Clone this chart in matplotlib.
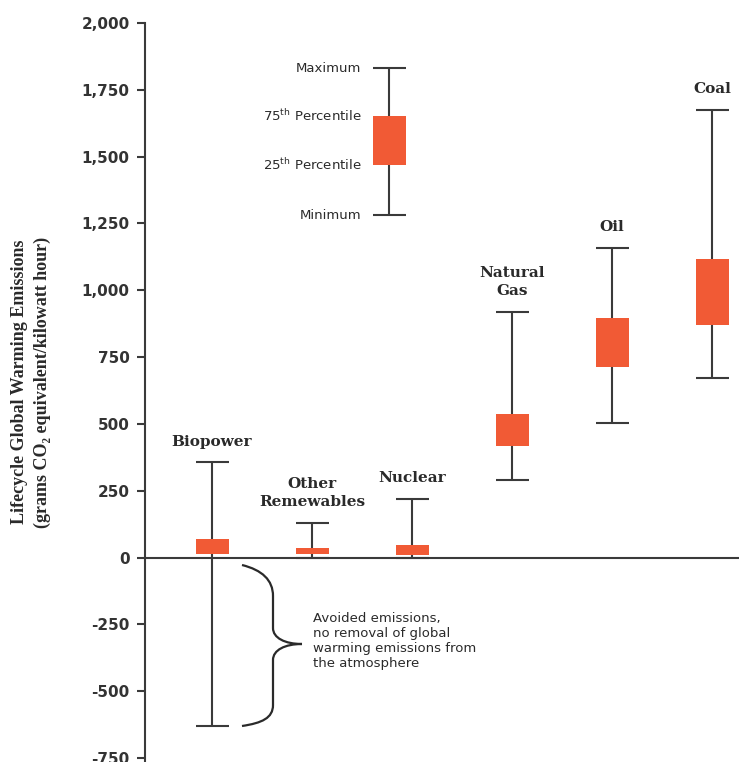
import matplotlib
matplotlib.use("Agg")
import matplotlib.pyplot as plt
from matplotlib.path import Path
from matplotlib.patches import PathPatch

# ---- data ----
categories = ["Biopower", "Other\nRemewables", "Nuclear", "Natural\nGas", "Oil", "Coal"]
mins = [-629, 0, 0, 290, 505, 671]
q1s = [15, 15, 9, 417, 714, 870]
q3s = [71, 36, 46, 537, 895, 1117]
maxs = [356, 128, 220, 918, 1157, 1675]

key_labels = ["Maximum", "75$^{\\mathrm{th}}$ Percentile", "25$^{\\mathrm{th}}$ Percentile", "Minimum"]
key_values = [1831, 1651, 1468, 1281]  # max, q3, q1, min

yticks = [-750, -500, -250, 0, 250, 500, 750, 1000, 1250, 1500, 1750, 2000]
ytick_labels = ["-750", "-500", "-250", "0", "250", "500", "750", "1,000", "1,250", "1,500", "1,750", "2,000"]

note = "Avoided emissions,\nno removal of global\nwarming emissions from\nthe atmosphere"
ylabel = "Lifecycle Global Warming Emissions\n(grams CO\u2082 equivalent/kilowatt hour)"

# ---- style ----
plt.rcParams["mathtext.fontset"] = "custom"
plt.rcParams["mathtext.rm"] = "DejaVu Sans"
BOX = "#F15A35"
LINE = "#3a3a3a"
W = 0.33

W_PX, H_PX = 739, 762
fig = plt.figure(figsize=(W_PX / 100, H_PX / 100), dpi=100)
ax = fig.add_axes([145 / W_PX, 0.0, 1 - 145 / W_PX, 1 - 23 / H_PX])
ax.set_xlim(-0.67, 5.27)
ax.set_ylim(-765, 2000)

def draw_box(x, lo, a, b, hi):
    ax.plot([x, x], [lo, hi], color=LINE, lw=1.5, zorder=2, solid_capstyle="butt")
    ax.plot([x - W / 2, x + W / 2], [hi, hi], color=LINE, lw=1.5, zorder=2, solid_capstyle="butt")
    ax.plot([x - W / 2, x + W / 2], [lo, lo], color=LINE, lw=1.5, zorder=2, solid_capstyle="butt")
    ax.bar(x, b - a, bottom=a, width=W, color=BOX, zorder=3, linewidth=0)

xs = list(range(len(categories)))
for x, lo, a, b, hi, name in zip(xs, mins, q1s, q3s, maxs, categories):
    draw_box(x, lo, a, b, hi)
    ax.annotate(name, (x, hi), xytext=(0, 10), textcoords="offset points",
                ha="center", va="bottom", fontsize=11, fontweight="bold",
                family=["DejaVu Serif"], color="#2a2a2a",
                linespacing=1.4)

# key box
kx = 1.77
draw_box(kx, key_values[3], key_values[2], key_values[1], key_values[0])
for lab, v in zip(key_labels, key_values):
    ax.annotate(lab, (kx - W / 2, v), xytext=(-8, 0), textcoords="offset points",
                ha="right", va="center", fontsize=9.5, family=["DejaVu Sans"],
                color="#2a2a2a")

# zero line
ax.axhline(0, color=LINE, lw=1.5, zorder=1)

# axes styling
for s in ["top", "right", "bottom"]:
    ax.spines[s].set_visible(False)
ax.spines["left"].set_color(LINE)
ax.spines["left"].set_linewidth(1.5)
ax.set_xticks([])
ax.set_yticks(yticks)
ax.set_yticklabels(ytick_labels, fontsize=11, fontweight="bold",
                   family=["DejaVu Sans"], color="#333333")
ax.tick_params(axis="y", length=6, width=1.5, color=LINE, pad=5)

fig.text(31 / W_PX, 1 - 382 / H_PX, ylabel, rotation=90, ha="center", va="center",
         fontsize=13, fontweight="bold", family=["Liberation Serif", "DejaVu Serif"],
         color="#2a2a2a", linespacing=1.5)

# brace (decoration) in pixel coordinates
def P(px, py):
    return (px / W_PX, 1 - py / H_PX)

verts = [P(242, 565), P(262, 570), P(273, 580), P(273, 596),
         P(273, 628),
         P(273, 638), P(285, 644), P(302, 644),
         P(285, 644), P(273, 650), P(273, 660),
         P(273, 705),
         P(273, 718), P(262, 723), P(242, 726)]
codes = [Path.MOVETO, Path.CURVE4, Path.CURVE4, Path.CURVE4,
         Path.LINETO,
         Path.CURVE4, Path.CURVE4, Path.CURVE4,
         Path.CURVE4, Path.CURVE4, Path.CURVE4,
         Path.LINETO,
         Path.CURVE4, Path.CURVE4, Path.CURVE4]
fig.add_artist(PathPatch(Path(verts, codes), transform=fig.transFigure,
                         fill=False, lw=1.6, edgecolor="#2a2a2a"))

fig.text(313 / W_PX, 1 - 612 / H_PX, note, ha="left", va="top", fontsize=9.5,
         family=["DejaVu Sans"], color="#2a2a2a", linespacing=1.2)

fig.savefig("out.png", dpi=100)
